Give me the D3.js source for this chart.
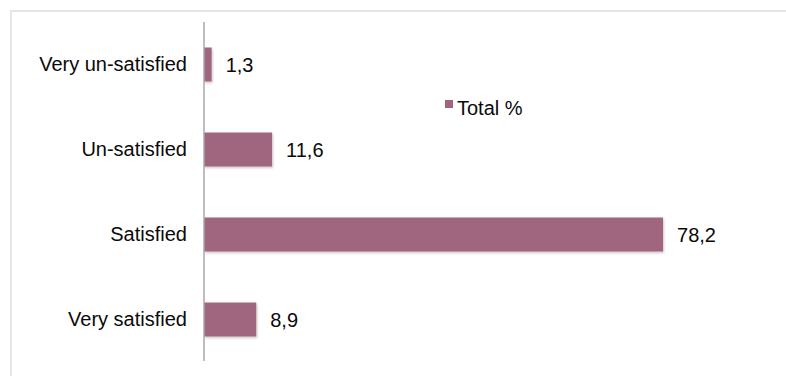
<!DOCTYPE html>
<html>
<head>
<meta charset="utf-8">
<script src="https://cdn.jsdelivr.net/npm/d3@7"></script>
<style>
  html, body { margin: 0; padding: 0; background: #fff; }
  svg { display: block; font-family: "Liberation Sans", Arial, Helvetica, sans-serif; }
</style>
</head>
<body>
<svg id="chart" width="786" height="376"></svg>
<script>
const categories = ["Very un-satisfied", "Un-satisfied", "Satisfied", "Very satisfied"];
const totals = [1.3, 11.6, 78.2, 8.9];
const valueLabels = ["1,3", "11,6", "78,2", "8,9"];
const seriesName = "Total %";

const W = 786, H = 376;
const margin = { left: 204, top: 22, bottom: 14 };
const barColor = "#a0657f";
const textColor = "#0a0a0a";
const fontSize = 20;

const svg = d3.select("#chart");

// soft drop shadow under bars
const defs = svg.append("defs");
const f = defs.append("filter").attr("id", "shadow")
  .attr("x", "-10%").attr("y", "-20%").attr("width", "130%").attr("height", "160%");
f.append("feDropShadow").attr("dx", 1).attr("dy", 1.5).attr("stdDeviation", 1.2)
  .attr("flood-color", "#000").attr("flood-opacity", 0.22);

// outer frame (top and left edges)
svg.append("path")
  .attr("d", `M11,${H} V11 H${W}`)
  .attr("fill", "none").attr("stroke", "#e6e6e6").attr("stroke-width", 2);

const x = d3.scaleLinear().domain([0, 100]).range([margin.left, margin.left + 587]);
const y = d3.scaleBand().domain(categories)
  .range([margin.top, H - margin.bottom])
  .paddingInner(0.6).paddingOuter(0.3);

// bars
svg.append("g").selectAll("rect")
  .data(categories)
  .join("rect")
  .attr("x", x(0))
  .attr("y", d => y(d))
  .attr("width", (d, i) => x(totals[i]) - x(0))
  .attr("height", y.bandwidth())
  .attr("fill", barColor)
  .attr("filter", "url(#shadow)");

// category axis
const yAxis = d3.axisLeft(y).tickSize(0).tickPadding(17);
const gy = svg.append("g").attr("transform", `translate(${x(0)},0)`).call(yAxis);
gy.select(".domain").remove();
gy.selectAll("text").attr("font-size", fontSize).attr("fill", textColor)
  .style("font-family", "\"Liberation Sans\", Arial, sans-serif");

svg.append("line")
  .attr("x1", x(0)).attr("x2", x(0))
  .attr("y1", margin.top).attr("y2", H - margin.bottom - 1)
  .attr("stroke", "#a8a8a8").attr("stroke-width", 1.5);

// value labels
svg.append("g").selectAll("text")
  .data(categories)
  .join("text")
  .attr("x", (d, i) => x(totals[i]) + 14)
  .attr("y", d => y(d) + y.bandwidth() / 2)
  .attr("dy", "0.35em")
  .attr("font-size", fontSize)
  .attr("fill", textColor)
  .text((d, i) => valueLabels[i]);

// legend
const lg = svg.append("g").attr("transform", "translate(445,100)");
lg.append("rect").attr("width", 8).attr("height", 8).attr("fill", barColor);
lg.append("text").attr("x", 12).attr("y", 15)
  .attr("font-size", fontSize).attr("fill", textColor).text(seriesName);
</script>
</body>
</html>
